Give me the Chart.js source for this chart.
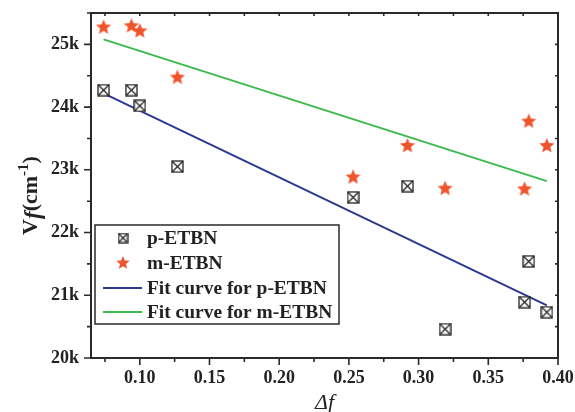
<!DOCTYPE html>
<html>
<head>
<meta charset="utf-8">
<script src="https://cdn.jsdelivr.net/npm/chart.js@4/dist/chart.umd.min.js"></script>
<style>
  html, body { margin: 0; padding: 0; background: #fff; }
  #wrap { width: 575px; height: 412px; }
</style>
</head>
<body>
<div id="wrap"><canvas id="shifts" width="575" height="412"></canvas></div>
<script>
// values
const deltaF = [0.074, 0.094, 0.100, 0.127, 0.253, 0.292, 0.319, 0.376, 0.379, 0.392];
const pETBN = [24270, 24270, 24020, 23050, 22560, 22740, 20460, 20890, 21540, 20730];
const mETBN = [25270, 25290, 25210, 24470, 22880, 23380, 22700, 22690, 23770, 23380];
const fitX = [0.074, 0.392];
const fitP = [24220, 20840];
const fitM = [25080, 22820];
const xTicks = [0.10, 0.15, 0.20, 0.25, 0.30, 0.35, 0.40];
const yTicks = [20000, 21000, 22000, 23000, 24000, 25000];
const legendLabels = ['p-ETBN', 'm-ETBN', 'Fit curve for p-ETBN', 'Fit curve for m-ETBN'];

const BLUE = '#2b3990';
const GREEN = '#3dba4e';
const RED = '#f1532a';
const AXIS = '#2a2a2a';
const SERIF = '"Liberation Serif", "Times New Roman", serif';

function boxMark(s) {
  const c = document.createElement('canvas');
  c.width = c.height = s + 2;
  const g = c.getContext('2d');
  g.fillStyle = '#fff';
  g.fillRect(1, 1, s, s);
  g.strokeStyle = '#222';
  g.lineWidth = 1.3;
  g.strokeRect(1, 1, s, s);
  g.beginPath();
  g.moveTo(1, 1); g.lineTo(s + 1, s + 1);
  g.moveTo(s + 1, 1); g.lineTo(1, s + 1);
  g.stroke();
  return c;
}

function starMark(R) {
  const c = document.createElement('canvas');
  c.width = c.height = 2 * R + 2;
  const g = c.getContext('2d');
  const cx = R + 1, cy = R + 1, r = R * 0.45;
  g.beginPath();
  for (let i = 0; i < 10; i++) {
    const a = -Math.PI / 2 + i * Math.PI / 5;
    const rr = i % 2 ? r : R;
    g.lineTo(cx + rr * Math.cos(a), cy + rr * Math.sin(a));
  }
  g.closePath();
  g.fillStyle = RED;
  g.fill();
  return c;
}

const boxImg = boxMark(11);
const starImg = starMark(8);
const boxLeg = boxMark(9);
const starLeg = starMark(7);

const pts = (xs, ys) => xs.map((x, i) => ({ x: x, y: ys[i] }));
const noPad = s => { s.paddingTop = 0; s.paddingBottom = 0; s.paddingLeft = 0; s.paddingRight = 0; };

// box, ticks on all four sides, axis titles and legend
const frame = {
  id: 'frame',
  afterDraw(chart) {
    const { ctx, chartArea: a, scales: { x, y } } = chart;
    ctx.save();
    ctx.strokeStyle = AXIS;
    ctx.lineWidth = 2;
    ctx.strokeRect(a.left, a.top, a.right - a.left, a.bottom - a.top);
    ctx.lineWidth = 1.6;
    ctx.beginPath();
    for (let v = 0.075; v <= 0.4001; v += 0.025) {
      const px = x.getPixelForValue(v);
      const major = Math.abs(v * 20 - Math.round(v * 20)) < 1e-6;
      ctx.moveTo(px, a.bottom); ctx.lineTo(px, a.bottom + (major ? 7 : 4));
      ctx.moveTo(px, a.top); ctx.lineTo(px, a.top + 3);
    }
    for (let v = 20000; v <= 25500; v += 500) {
      const py = y.getPixelForValue(v);
      const major = v % 1000 === 0;
      ctx.moveTo(a.left, py); ctx.lineTo(a.left - (major ? 7 : 4), py);
      ctx.moveTo(a.right, py); ctx.lineTo(a.right - 3, py);
    }
    ctx.stroke();

    // x title
    ctx.fillStyle = '#222';
    ctx.font = 'italic 22px ' + SERIF;
    ctx.textAlign = 'center';
    ctx.textBaseline = 'middle';
    ctx.fillText('Δf', (a.left + a.right) / 2, 403);

    // y title: V_f(cm^-1)
    ctx.textAlign = 'left';
    ctx.textBaseline = 'alphabetic';
    ctx.translate(30, (a.top + a.bottom) / 2 + 10);
    ctx.rotate(-Math.PI / 2);
    const parts = [
      { t: 'V', f: 'bold 22px ' + SERIF, dy: 0 },
      { t: 'f', f: 'italic bold 23px ' + SERIF, dy: 3 },
      { t: '(cm', f: 'bold 22px ' + SERIF, dy: 0 },
      { t: '-1', f: 'bold 15px ' + SERIF, dy: -9 },
      { t: ')', f: 'bold 22px ' + SERIF, dy: 0 }
    ];
    let w = 0;
    parts.forEach(p => { ctx.font = p.f; p.w = ctx.measureText(p.t).width; w += p.w; });
    let cx = -w / 2;
    parts.forEach(p => { ctx.font = p.f; ctx.fillText(p.t, cx, 7 + p.dy); cx += p.w; });
    ctx.restore();

    // legend box
    ctx.save();
    const L = 95, T = 225, R = 339, B = 324;
    ctx.fillStyle = '#fff';
    ctx.fillRect(L, T, R - L, B - T);
    ctx.strokeStyle = AXIS;
    ctx.lineWidth = 1.5;
    ctx.strokeRect(L, T, R - L, B - T);
    const rows = [238, 263, 288, 312];
    const mx = 123;
    ctx.drawImage(boxLeg, mx - boxLeg.width / 2, rows[0] - boxLeg.height / 2);
    ctx.drawImage(starLeg, mx - starLeg.width / 2, rows[1] - starLeg.height / 2);
    ctx.lineWidth = 2;
    ctx.strokeStyle = BLUE;
    ctx.beginPath(); ctx.moveTo(103, rows[2]); ctx.lineTo(142, rows[2]); ctx.stroke();
    ctx.strokeStyle = GREEN;
    ctx.beginPath(); ctx.moveTo(103, rows[3]); ctx.lineTo(142, rows[3]); ctx.stroke();
    ctx.fillStyle = '#222';
    ctx.font = 'bold 18px ' + SERIF;
    ctx.textBaseline = 'middle';
    legendLabels.forEach((s, i) => {
      ctx.save();
      ctx.translate(147, rows[i] + 1);
      ctx.scale(1.08, 1);
      ctx.fillText(s, 0, 0);
      ctx.restore();
    });
    ctx.restore();
  }
};

new Chart(document.getElementById('shifts'), {
  type: 'scatter',
  data: {
    datasets: [
      { label: legendLabels[0], data: pts(deltaF, pETBN), pointStyle: boxImg, order: 0 },
      { label: legendLabels[1], data: pts(deltaF, mETBN), pointStyle: starImg, order: 0 },
      { label: legendLabels[2], data: pts(fitX, fitP), showLine: true, borderColor: BLUE,
        borderWidth: 2, pointRadius: 0, order: 1 },
      { label: legendLabels[3], data: pts(fitX, fitM), showLine: true, borderColor: GREEN,
        borderWidth: 2, pointRadius: 0, order: 1 }
    ]
  },
  options: {
    responsive: false,
    animation: false,
    layout: { padding: { top: 13, right: 17, left: 0, bottom: 0 } },
    plugins: { legend: { display: false }, tooltip: { enabled: false } },
    scales: {
      x: {
        type: 'linear', min: 0.065, max: 0.40,
        grid: { display: false, drawTicks: false },
        border: { display: false },
        afterBuildTicks: s => { s.ticks = xTicks.map(v => ({ value: v })); },
        afterFit: s => { s.height = 54; noPad(s); },
        ticks: {
          padding: 10, color: '#222',
          font: { family: SERIF, size: 18, weight: 'bold' },
          callback: v => v.toFixed(2)
        }
      },
      y: {
        type: 'linear', min: 20000, max: 25500,
        grid: { display: false, drawTicks: false },
        border: { display: false },
        afterBuildTicks: s => { s.ticks = yTicks.map(v => ({ value: v })); },
        afterFit: s => { s.width = 91; noPad(s); },
        ticks: {
          padding: 12, color: '#222',
          font: { family: SERIF, size: 18, weight: 'bold' },
          callback: v => (v / 1000) + 'k'
        }
      }
    }
  },
  plugins: [frame]
});
</script>
</body>
</html>
